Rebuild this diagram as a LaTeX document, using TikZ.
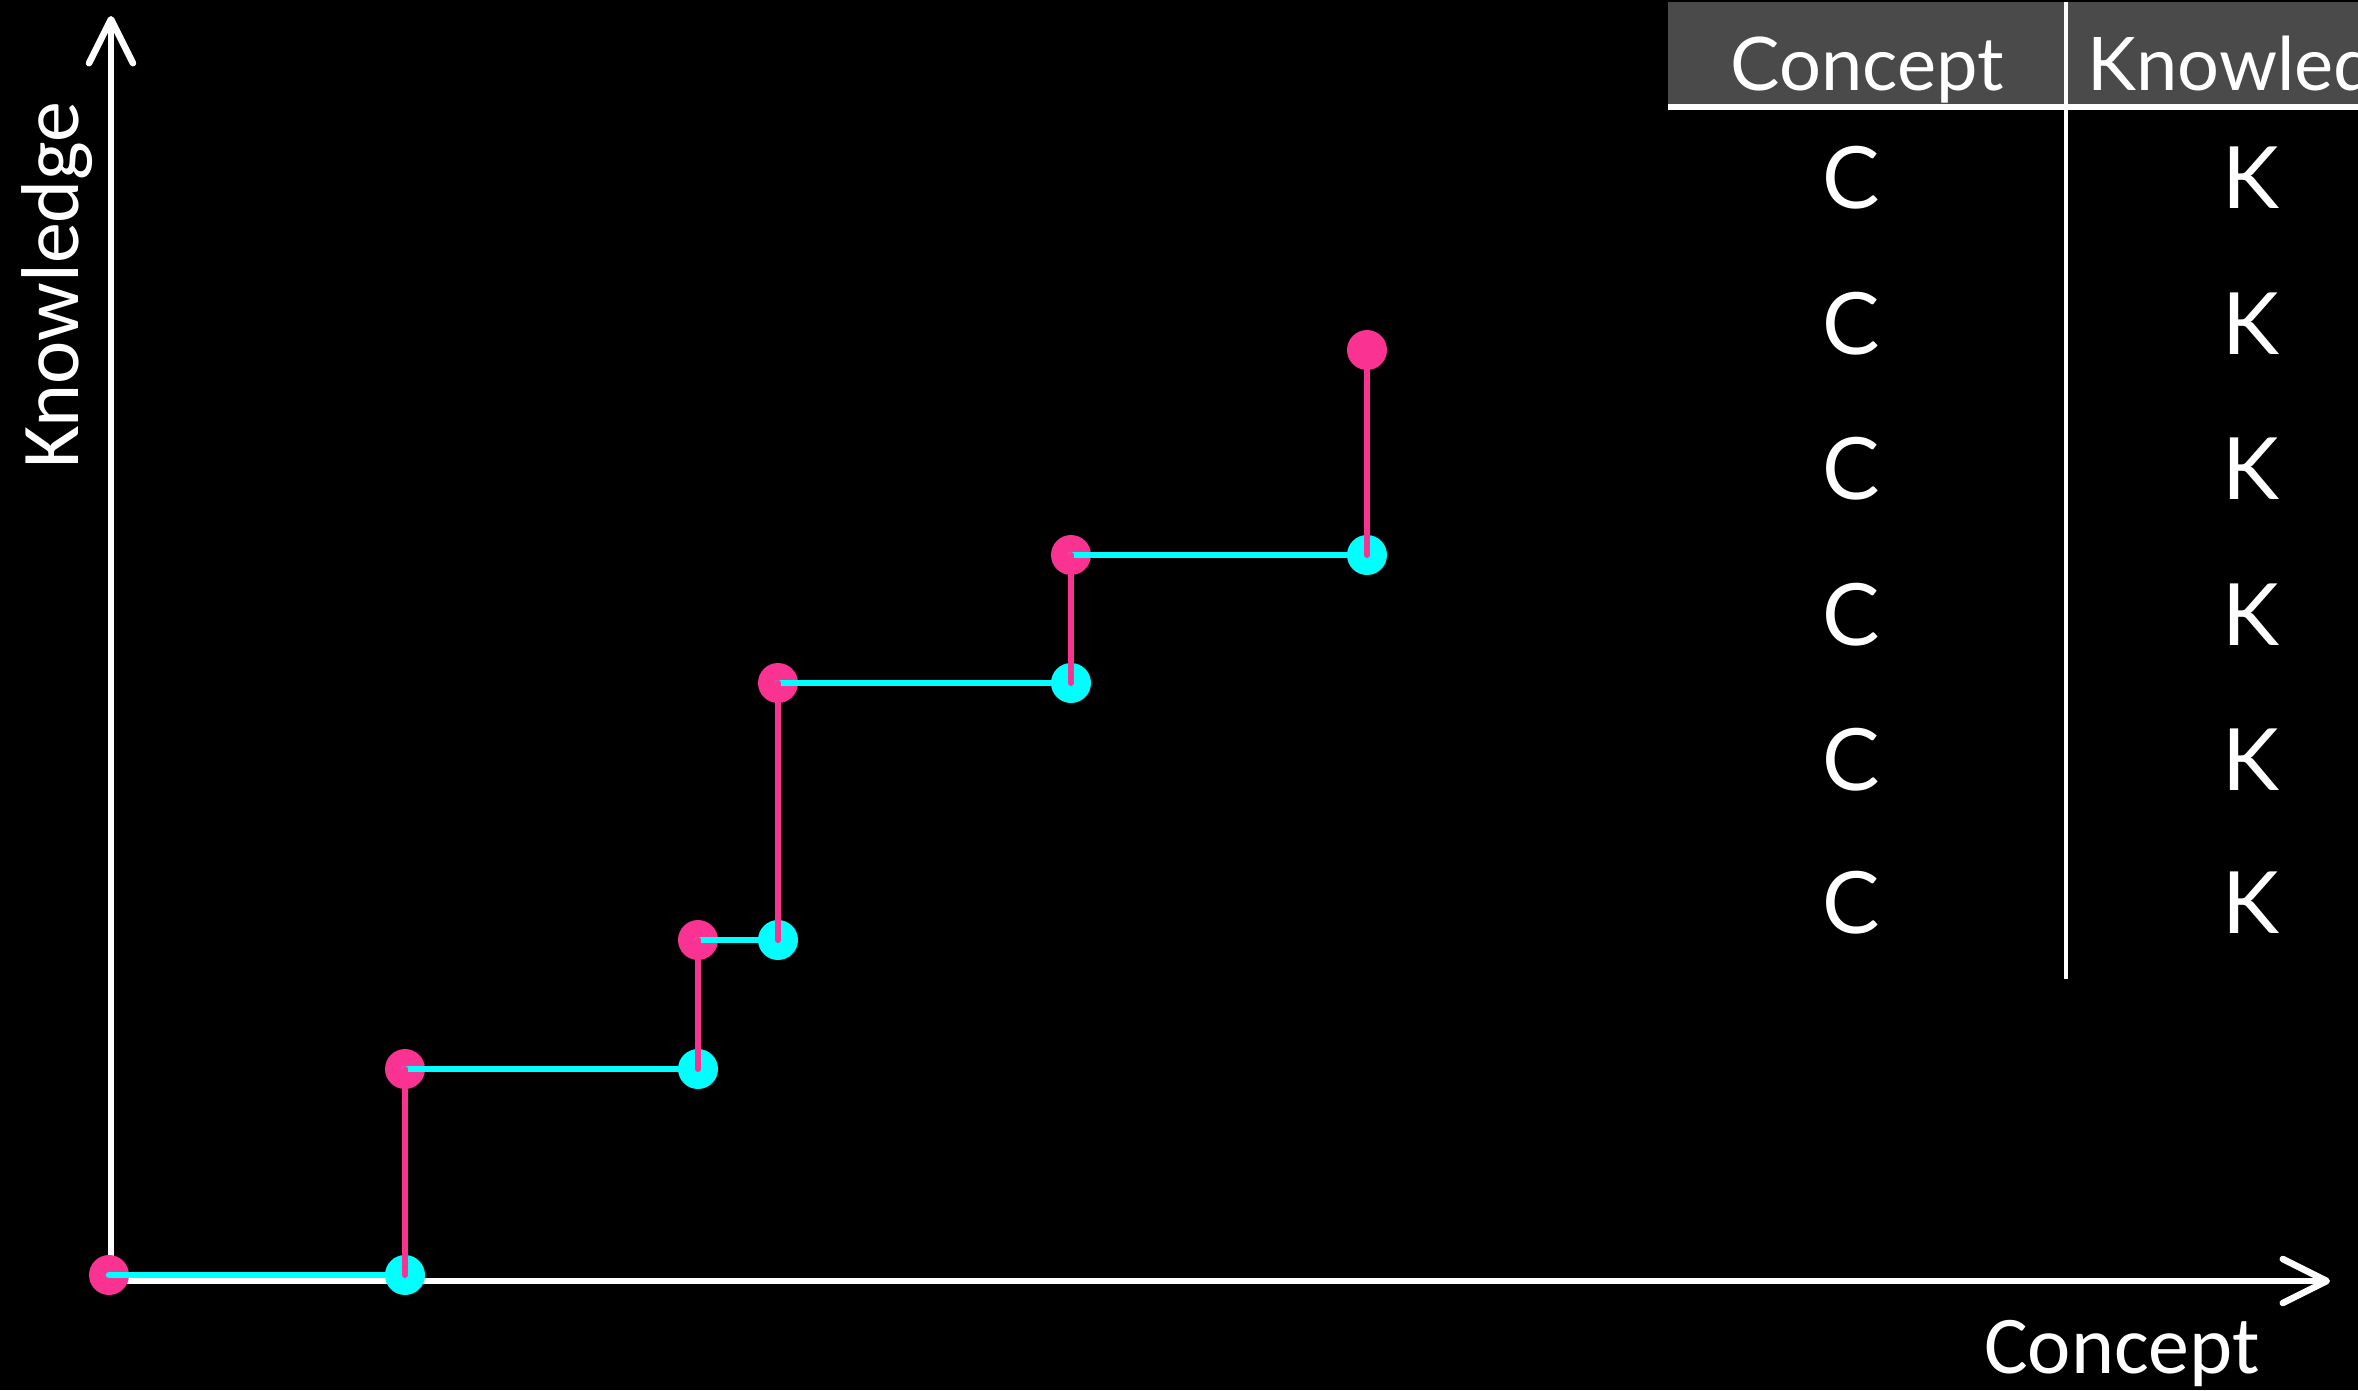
\documentclass[tikz,border=0pt]{standalone}
\usepackage{fontspec}
\setmainfont{Lato}
\newfontfamily\axisfont{Carlito}
\usetikzlibrary{arrows.meta}

\definecolor{hotpink}{RGB}{250,50,145}
\definecolor{aqua}{RGB}{0,255,255}
\definecolor{headgray}{RGB}{74,74,74}

\tikzset{
  axisline/.style={draw=white, line width=6.5pt, line cap=round,
    -{Straight Barb[length=44pt, width=44pt, line cap=round, line join=round]}},
  pinkdot/.style={circle, fill=hotpink, inner sep=0pt, minimum size=40pt},
  aquadot/.style={circle, fill=aqua, inner sep=0pt, minimum size=40pt},
  riser/.style={draw=hotpink, line width=6pt, line cap=round},
  tread/.style={draw=aqua, line width=6.5pt, line cap=round},
  axislabel/.style={text=white, font=\axisfont\fontsize{82}{90}\selectfont, inner sep=0pt},
  headtext/.style={text=white, font=\fontsize{74}{80}\selectfont, inner sep=0pt},
  celltext/.style={text=white, font=\fontsize{86}{92}\selectfont, inner sep=0pt},
  rule/.style={draw=white, line width=5pt}
}

\begin{document}
\begin{tikzpicture}[x=1pt,y=-1pt]
  \useasboundingbox (0,0) rectangle (2358,1390);
  \fill[black] (0,0) rectangle (2358,1390);
  \clip (0,0) rectangle (2358,1390);

  % axes
  \coordinate (O) at (111,1281);
  \coordinate (ytip) at (111,16);
  \coordinate (xtip) at (2330,1281);
  \draw[axisline] (O) -- (ytip);
  \draw[axisline] (O) -- (xtip);
  \node[axislabel, rotate=90, anchor=base] (ylab) at (78,285) {Knowledge};
  \node[axislabel, anchor=base] (xlab) at (2122,1373) {Concept};

  % step points
  \coordinate (P0) at (109,1275);
  \coordinate (C1) at (405,1275);
  \coordinate (P1) at (405,1069);
  \coordinate (C2) at (698,1069);
  \coordinate (P2) at (698,940);
  \coordinate (C3) at (778,940);
  \coordinate (P3) at (778,683);
  \coordinate (C4) at (1071,683);
  \coordinate (P4) at (1071,555);
  \coordinate (C5) at (1367,555);
  \coordinate (P5) at (1367,350);

  % pink dots
  \foreach \i in {0,...,5} \node[pinkdot] (pd\i) at (P\i) {};
  % aqua treads
  \draw[tread] (P0) -- (C1);
  \draw[tread] (P1) -- (C2);
  \draw[tread] (P2) -- (C3);
  \draw[tread] (P3) -- (C4);
  \draw[tread] (P4) -- (C5);
  % aqua dots
  \foreach \i in {1,...,5} \node[aquadot] (cd\i) at (C\i) {};
  % pink risers
  \draw[riser] (C1) -- (P1);
  \draw[riser] (C2) -- (P2);
  \draw[riser] (C3) -- (P3);
  \draw[riser] (C4) -- (P4);
  \draw[riser] (C5) -- (P5);

  % table
  \fill[headgray] (1668,2) rectangle (2358,104);
  \draw[rule, line width=6pt] (1668,107) -- (2358,107);
  \draw[rule, line width=4.5pt] (2066,2) -- (2066,979);
  \node[headtext, anchor=base] (hc) at (1867,90) {Concept};
  \node[headtext, anchor=base west] (hk) at (2087,90) {Knowledge};
  \foreach \y [count=\n] in {208,354,499,645,790,933} {
    \node[celltext, anchor=base] (cc\n) at (1851,\y) {C};
    \node[celltext, anchor=base] (kk\n) at (2251,\y) {K};
  }
\end{tikzpicture}
\end{document}
